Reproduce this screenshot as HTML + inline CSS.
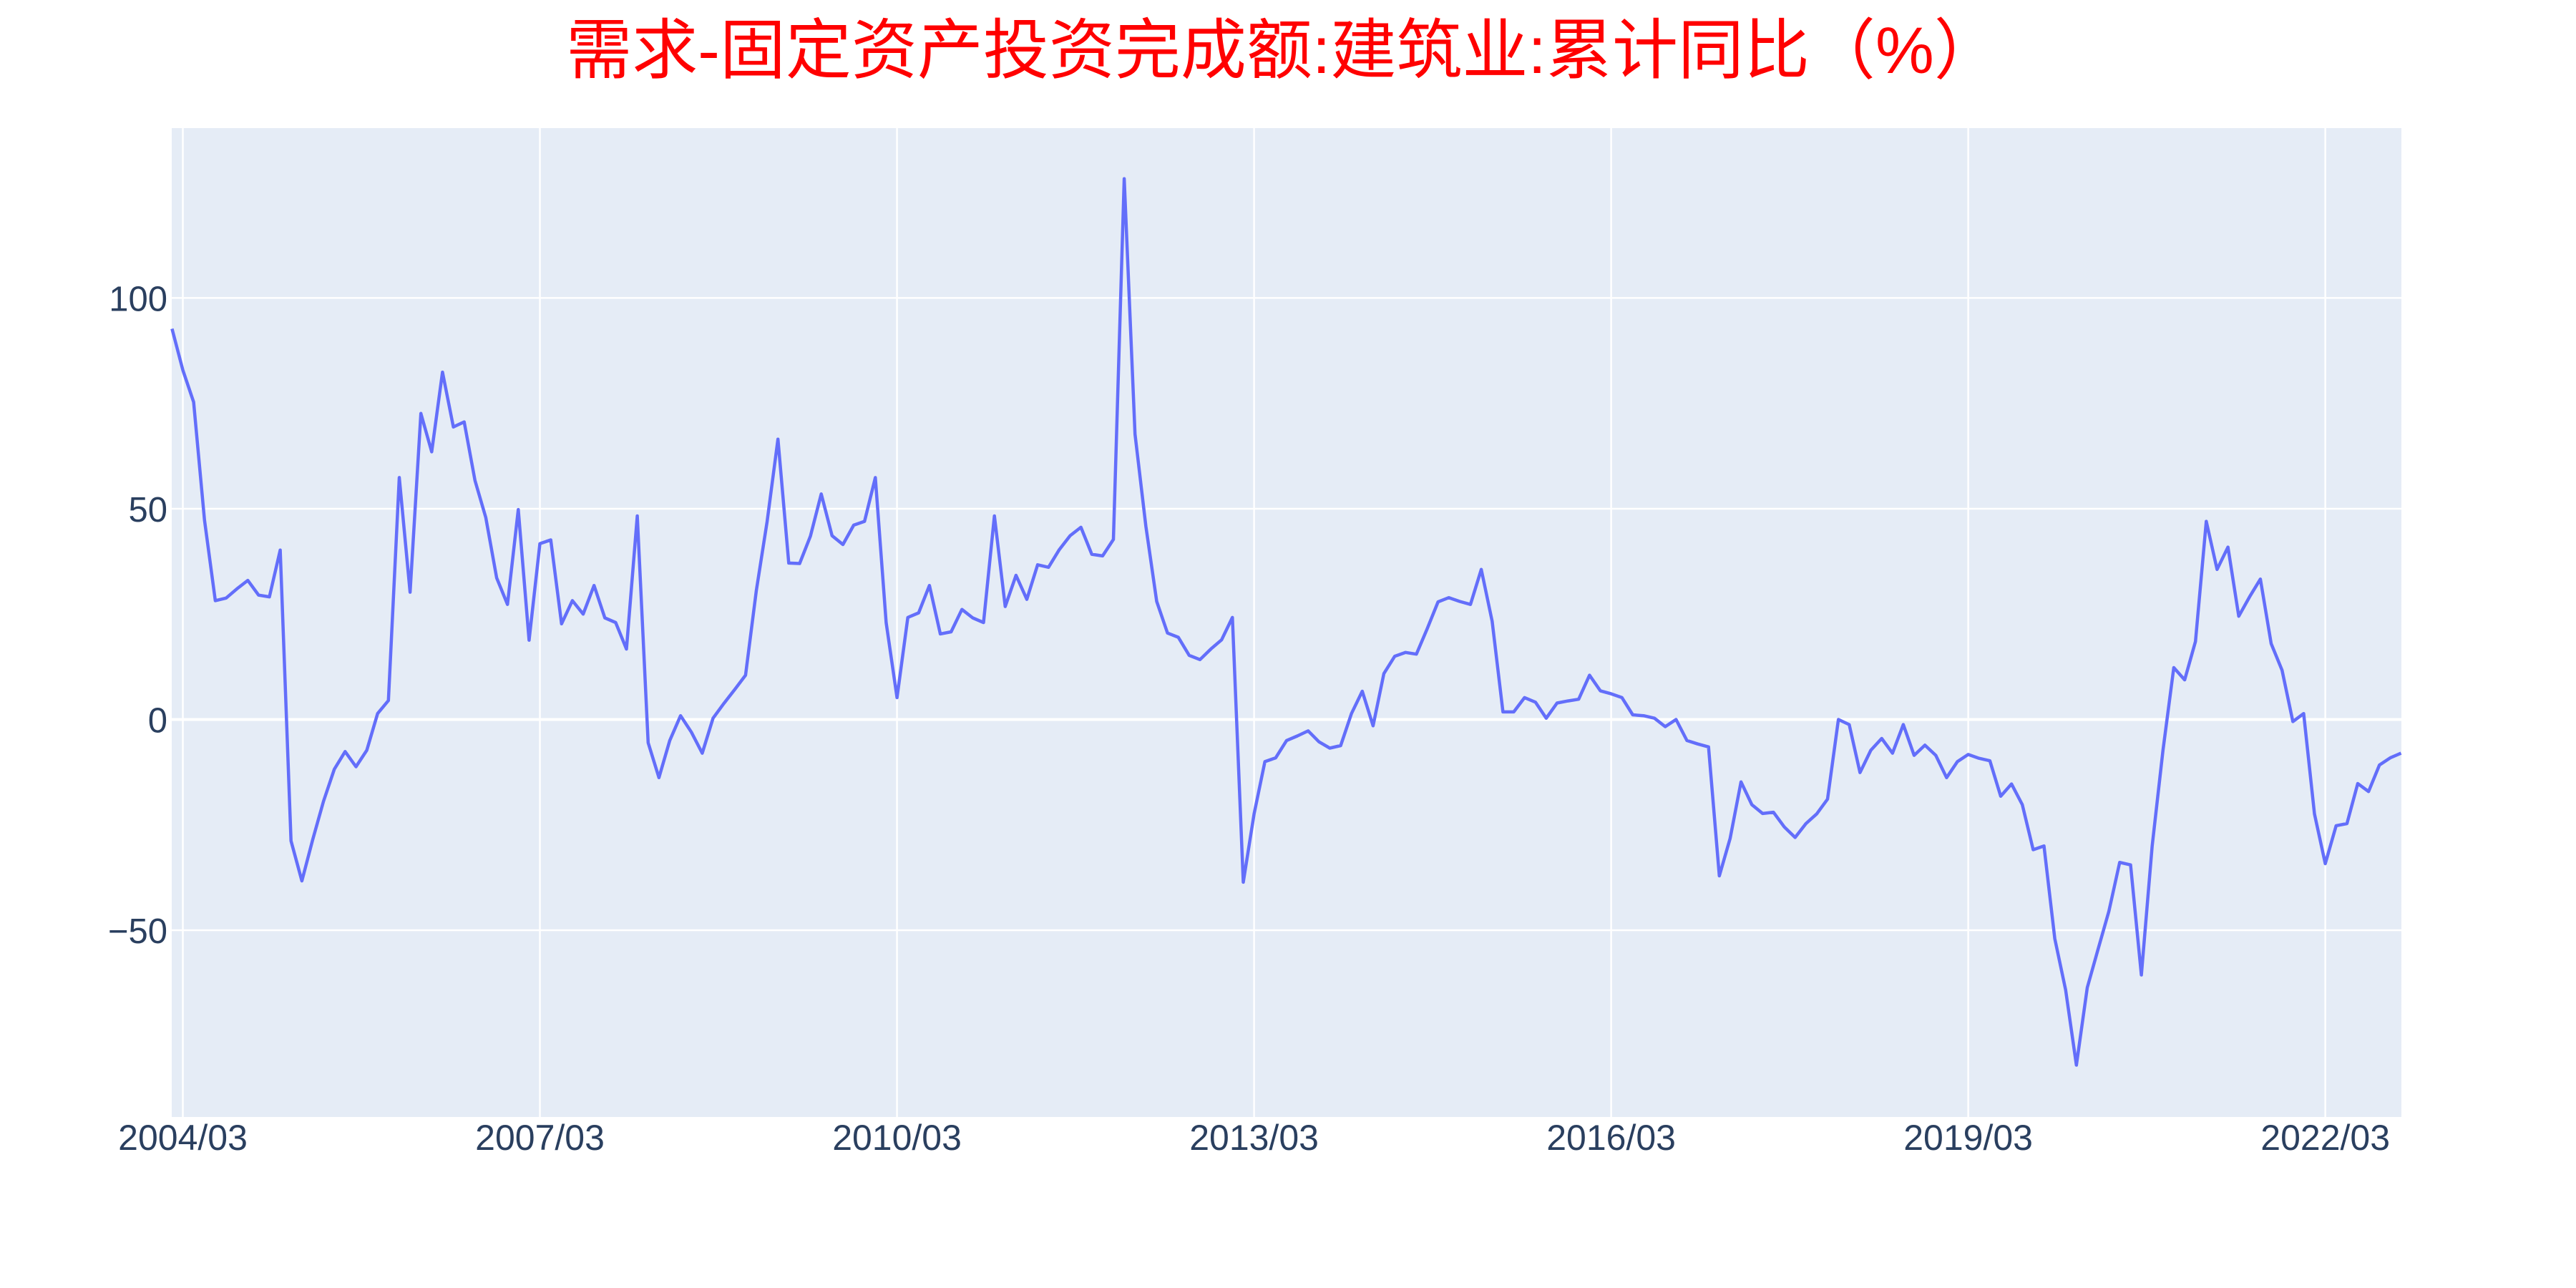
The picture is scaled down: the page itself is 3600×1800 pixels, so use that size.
<!DOCTYPE html>
<html><head><meta charset="utf-8"><style>html,body{margin:0;padding:0;background:#fff}svg{display:block}</style></head>
<body>
<svg id="chart" width="3600" height="1800" viewBox="0 0 3600 1800" xmlns="http://www.w3.org/2000/svg">
<rect x="0" y="0" width="3600" height="1800" fill="#ffffff"/>
<text x="1793" y="102" text-anchor="middle" font-family="'Liberation Sans','Noto Sans CJK SC',sans-serif" font-size="92" fill="#ff0000">需求-固定资产投资完成额:建筑业:累计同比（%）</text>
<rect x="240" y="179" width="3116" height="1382" fill="#e5ecf6"/>
<g id="grid"></g>
<g id="yticks"></g>
<g id="xticks"></g>
<g id="series"></g>
</svg>
<script>
const values = [92.7,82.9,75.3,47.3,28.2,28.8,31,33,29.5,29.1,40.2,-28.8,-38.3,-28.5,-19.4,-11.8,-7.6,-11.2,-7.3,1.4,4.5,57.4,30.2,72.6,63.5,82.4,69.4,70.6,56.7,47.9,33.6,27.3,49.8,18.8,41.7,42.6,22.7,28.2,25,31.8,24.1,23,16.7,48.3,-5.5,-13.8,-5,0.9,-3,-8,0.3,3.8,7.1,
10.5,30.6,47,66.5,37.1,37,43.5,53.5,43.6,41.5,46.1,47,57.4,23,5.2,24.2,25.3,31.8,20.3,20.8,26.1,24.1,23,48.3,26.8,34.2,28.5,36.7,36.1,40.3,43.6,45.6,39.2,38.8,42.7,128.3,67.7,45.8,28,20.5,19.5,15.2,14.2,16.7,18.9,24.2,-38.6,-22.4,-10,-9.1,-5,
-3.9,-2.7,-5.3,-6.8,-6.2,1.4,6.7,-1.5,10.9,15,15.9,15.5,21.5,27.9,28.9,28,27.3,35.6,23.3,1.8,1.8,5.2,4.1,0.3,3.9,4.4,4.8,10.5,6.8,6.1,5.2,1.1,0.9,0.3,-1.7,0,-5,-5.8,-6.5,-37.1,-28.2,-14.8,-20.2,-22.3,-22,-25.5,-28,-24.7,-22.4,-18.9,0,
-1.2,-12.6,-7.3,-4.5,-8,-1.2,-8.5,-6.1,-8.5,-13.8,-10,-8.3,-9.2,-9.8,-18.2,-15.3,-20.2,-30.9,-30,-52,-64.1,-82,-63.6,-54.5,-45.5,-33.9,-34.5,-60.6,-30,-7.3,12.3,9.4,18.5,47,35.6,40.9,24.5,29.1,33.3,18,11.7,-0.5,1.4,-22.4,-34.2,-25.2,-24.7,-15.2,-17.1,-10.8,-9.1,-8];
const xTickLabels = ["2004/03","2007/03","2010/03","2013/03","2016/03","2019/03","2022/03"];
const yTickValues = [-50,0,50,100];
const yTickLabels = ["\u221250","0","50","100"];

// categories: Feb–Dec each year from 2004/02
const categories = [];
for (let y = 2004; categories.length < values.length; y++) {
  for (let m = 2; m <= 12 && categories.length < values.length; m++) {
    categories.push(y + "/" + (m < 10 ? "0" + m : m));
  }
}
const PL = 240.4, PR = 3355.5, PT = 179, PB = 1561;
const yMin = -94.3, yMax = 140.3;
const xScale = i => PL + (PR - PL) * i / (categories.length - 1);
const yScale = v => PB - (v - yMin) / (yMax - yMin) * (PB - PT);
const NS = "http://www.w3.org/2000/svg";
const font = "'Liberation Sans','DejaVu Sans',sans-serif";

const grid = document.getElementById('grid');
const yt = document.getElementById('yticks');
yTickValues.forEach((v, k) => {
  const l = document.createElementNS(NS, 'line');
  
  
  l.setAttribute('x1', 240); l.setAttribute('x2', 3356);
  l.setAttribute('y1', yScale(v)); l.setAttribute('y2', yScale(v));
  l.setAttribute('stroke', '#ffffff'); l.setAttribute('stroke-width', v === 0 ? 4 : 2.5);
  grid.appendChild(l);
  const t = document.createElementNS(NS, 'text');
  
  
  t.setAttribute('x', 234); t.setAttribute('y', yScale(v) + 18);
  t.setAttribute('text-anchor', 'end'); t.setAttribute('font-family', font);
  t.setAttribute('font-size', '49'); t.setAttribute('fill', '#2a3f5f');
  t.textContent = yTickLabels[k];
  yt.appendChild(t);
});
const xt = document.getElementById('xticks');
xTickLabels.forEach(lab => {
  const i = categories.indexOf(lab);
  if (i < 0) return;
  const x = xScale(i);
  const l = document.createElementNS(NS, 'line');
  
  
  l.setAttribute('x1', x); l.setAttribute('x2', x);
  l.setAttribute('y1', PT); l.setAttribute('y2', PB);
  l.setAttribute('stroke', '#ffffff'); l.setAttribute('stroke-width', 2.5);
  grid.appendChild(l);
  const t = document.createElementNS(NS, 'text');
  
  
  t.setAttribute('x', x); t.setAttribute('y', 1607);
  t.setAttribute('text-anchor', 'middle'); t.setAttribute('font-family', font);
  t.setAttribute('font-size', '50'); t.setAttribute('fill', '#2a3f5f');
  t.textContent = lab;
  xt.appendChild(t);
});
const d = values.map((v, i) => (i ? 'L' : 'M') + xScale(i).toFixed(1) + ' ' + yScale(v).toFixed(1)).join(' ');
const p = document.createElementNS(NS, 'path');


p.setAttribute('d', d);
p.setAttribute('fill', 'none'); p.setAttribute('stroke', '#636efa');
p.setAttribute('stroke-width', 4.5); p.setAttribute('stroke-linejoin', 'round');
document.getElementById('series').appendChild(p);
</script>
</body></html>
